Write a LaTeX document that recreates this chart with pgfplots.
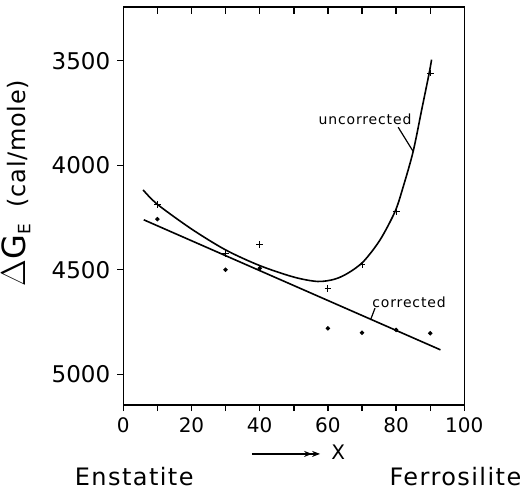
\documentclass[border=0pt]{standalone}
\usepackage{fontspec}
\setmainfont{DejaVu Sans}
\newfontfamily\spaced[LetterSpace=6]{DejaVu Sans}
\newfontfamily\spacedlab[LetterSpace=3]{DejaVu Sans}
\usepackage{pgfplots}
\pgfplotsset{compat=1.18}
\usetikzlibrary{arrows.meta}

\begin{document}
\begin{tikzpicture}
\begin{axis}[
    name=main,
    scale only axis,
    width=170.5pt, height=199pt,
    xmin=0, xmax=100,
    ymin=3243, ymax=5147,
    y dir=reverse,
    xtick={0,10,...,100},
    xticklabels={0,,20,,40,,60,,80,,100},
    ytick={3500,4000,4500,5000},
    yticklabels={3500,4000,4500,5000},
    xtick pos=lower, ytick pos=left,
    tick align=outside,
    major tick length=3pt,
    axis line style={line width=0.8pt},
    tick style={line width=0.7pt, black},
    /pgf/number format/assume math mode=true,
    xticklabel style={font=\fontsize{10}{12}\selectfont},
    yticklabel style={font=\fontsize{11.5}{13}\selectfont},
    clip=false,
]
% uncorrected: fitted curve and measured points
\addplot[black, line width=0.8pt, smooth] coordinates {
    (5.8,4118) (10,4187) (20,4305) (30,4405) (40,4480) (50,4535)
    (57,4556) (62,4545) (66,4515) (70.4,4461) (75.3,4357) (79.7,4221)
    (82.1,4102) (85,3934) (87.5,3735) (89.7,3559) (90.4,3495)
};
\addplot[black, only marks, mark=+, mark size=1.7pt, line width=0.5pt] coordinates {
    (10,4189) (30,4421) (40,4381) (60,4588) (70,4477) (80,4221) (90,3559)
};
% corrected: straight line and points
\addplot[black, line width=0.8pt] coordinates {(6,4261) (93,4883)};
\addplot[black, only marks, mark=*, mark size=0.9pt] coordinates {
    (10,4258) (30,4500) (40,4493) (60,4780) (70,4801) (80,4788) (90,4804)
};

% inward ticks along the top edge
\pgfplotsinvokeforeach{10,20,...,90}{
    \draw[line width=0.7pt] (axis cs:#1,3243) -- (axis cs:#1,3277);
}

% curve labels with leaders
\node[font=\spaced\fontsize{7}{8}\selectfont] at (axis cs:70.9,3778) {uncorrected};
\draw[line width=0.6pt] (axis cs:80.6,3818) -- (axis cs:85,3934);
\node[font=\spaced\fontsize{7}{8}\selectfont] at (axis cs:83.8,4654) {corrected};
\draw[line width=0.6pt] (axis cs:73.8,4684) -- (axis cs:72.5,4740);

% axis titles
\node[rotate=90, anchor=center] at (axis cs:-31.5,4085)
    {\fontsize{16}{18}\selectfont$\Delta$G\textsubscript{\fontsize{8.5}{9}\selectfont E}\,
     {\spacedlab\fontsize{12}{14}\selectfont (cal/mole)}};
\draw[line width=0.6pt, -{Stealth[length=4pt]Stealth[length=4pt]}]
    (axis cs:37.7,5381) -- (axis cs:57.7,5381);
\node[font=\fontsize{10}{11}\selectfont] at (axis cs:63,5372) {X};
\node[anchor=base, font=\spaced\fontsize{12}{14}\selectfont] at (axis cs:3.2,5530) {Enstatite};
\node[anchor=base, font=\spaced\fontsize{12}{14}\selectfont] at (axis cs:97.4,5530) {Ferrosilite};
\end{axis}
\pgfresetboundingbox
\path[use as bounding box] (-61.65pt,-43pt) rectangle (199.35pt,202.5pt);
\end{tikzpicture}
\end{document}
